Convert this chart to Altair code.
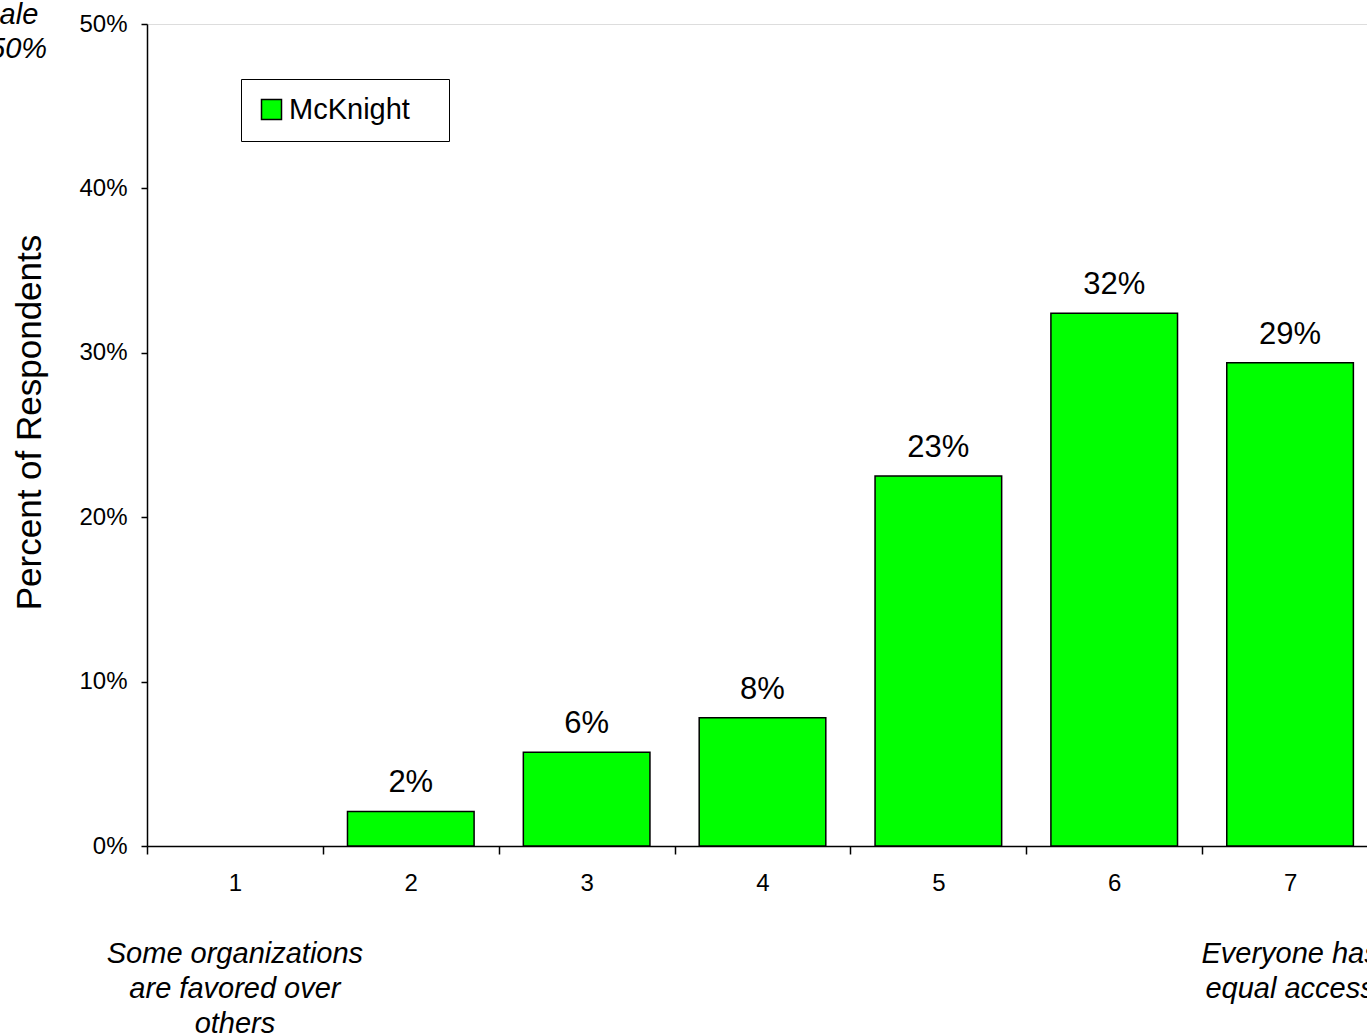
import altair as alt
import pandas as pd

# ---- data ----
categories = ["1", "2", "3", "4", "5", "6", "7"]
values = [0.0, 0.021, 0.057, 0.078, 0.2251, 0.324, 0.294]
series_name = "McKnight"
note_cats = ["1", "7"]
note_texts = ["Some organizations\nare favored over\nothers", "Everyone has\nequal access"]
corner_note = "Scale\nto 50%"
y_ticks = [0.0, 0.1, 0.2, 0.3, 0.4, 0.5]

df = pd.DataFrame({"cat": categories, "value": values, "series": [series_name] * len(categories)})
notes = pd.DataFrame({"cat": note_cats, "note": note_texts})
corner = pd.DataFrame({"note": [corner_note]})

FONT = "Liberation Sans"
NBSP = "\u00a0"

x_scale = alt.Scale(domain=categories, paddingInner=0.28, paddingOuter=0.14)
y_scale = alt.Scale(domain=[0, 0.5], nice=False)

bars = alt.Chart(df).transform_filter("datum.value > 0").mark_bar(
    stroke="black", strokeWidth=1.5
).encode(
    x=alt.X("cat:N", scale=x_scale, sort=categories,
            axis=alt.Axis(title=None, labelAngle=0, bandPosition=0, tickOffset=-24.6,
                          labelOffset=24.6,
                          tickSize=8, labelFontSize=24, labelPadding=17, labelColor="black",
                          domainColor="black", tickColor="black", domainWidth=1.5,
                          tickWidth=1.5, labelFont=FONT)),
    y=alt.Y("value:Q", scale=y_scale,
            axis=alt.Axis(title="Percent of Respondents", values=y_ticks, format=".0%",
                          tickSize=6, labelFontSize=24, labelPadding=14,
                          labelColor="black", domainColor="black", tickColor="black",
                          domainWidth=1.5, tickWidth=1.5, grid=False, labelFont=FONT,
                          titleFontSize=35, titleFontWeight="normal", titleColor="black",
                          titleFont=FONT, titleAngle=270, titleAlign="center",
                          titleBaseline="middle", titleX=-118, titleY=398)),
    color=alt.Color("series:N",
                    scale=alt.Scale(domain=[series_name], range=["#00FF00"]),
                    legend=alt.Legend(title=NBSP, titleOrient="right", titlePadding=23,
                                      titleFontSize=20,
                                      orient="none", legendX=94, legendY=55,
                                      symbolType="square", symbolSize=400,
                                      symbolStrokeColor="black", symbolStrokeWidth=1.5,
                                      symbolFillColor="#00FF00",
                                      labelFontSize=29, labelFont=FONT, labelColor="black",
                                      labelOffset=3, padding=16, strokeColor="black",
                                      fillColor="white")),
)

labels = alt.Chart(df).transform_filter("datum.value > 0").mark_text(
    fontSize=31, font=FONT, color="black", baseline="alphabetic", dy=-19
).encode(
    x=alt.X("cat:N", scale=x_scale, sort=categories),
    y=alt.Y("value:Q", scale=y_scale),
    text=alt.Text("value:Q", format=".0%"),
)

note_marks = alt.Chart(notes).mark_text(
    fontSize=29, font=FONT, fontStyle="italic", color="black", baseline="alphabetic",
    align="center", lineBreak="\n", lineHeight=35
).encode(
    x=alt.X("cat:N", scale=x_scale, sort=categories),
    y=alt.value(939),
    text="note:N",
)

corner_mark = alt.Chart(corner).mark_text(
    fontSize=29, font=FONT, fontStyle="italic", color="black", baseline="alphabetic",
    align="center", lineBreak="\n", lineHeight=34
).encode(
    x=alt.value(-145),
    y=alt.value(0),
    text="note:N",
)

chart = alt.layer(bars, labels, note_marks, corner_mark).properties(
    width=1231, height=822,
    autosize=alt.AutoSizeParams(type="none"),
    padding={"left": 147, "top": 24, "right": -11, "bottom": 188},
).configure_view(stroke=None).configure(font=FONT, background="white")

chart.save("out.html", embed_options={"renderer": "svg", "actions": False})
